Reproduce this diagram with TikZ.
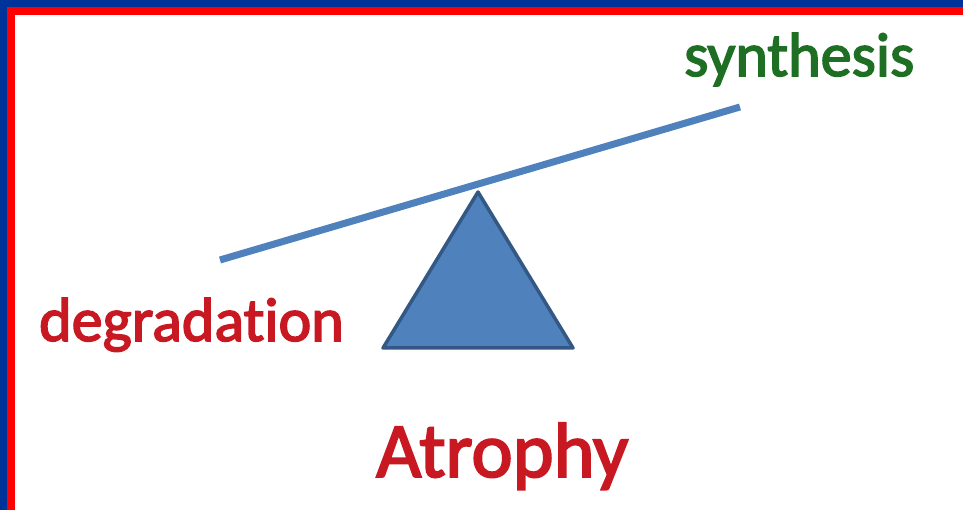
\documentclass[tikz,border=0pt]{standalone}
\usepackage{fontspec}
\setmainfont[Ligatures=NoCommon]{Carlito}
\newfontfamily\labelfont[Ligatures=NoCommon, FakeBold=2.5]{Carlito}
\usepackage{tikz}
\usetikzlibrary{calc}
\definecolor{frameblue}{RGB}{0,51,153}
\definecolor{framered}{RGB}{255,0,0}
\definecolor{beamblue}{RGB}{79,129,189}
\definecolor{beamedge}{RGB}{52,88,132}
\definecolor{synthgreen}{RGB}{30,110,35}
\definecolor{labelred}{RGB}{200,25,35}
\tikzset{
  beam/.style={line width=7pt, beamblue},
  fulcrum/.style={fill=beamblue, draw=beamedge, line width=3.5pt, line join=round},
  sidelabel/.style={anchor=base west, inner sep=0pt,
                    font=\labelfont\fontsize{62}{62}\selectfont},
  titlelabel/.style={anchor=base west, inner sep=0pt, text=labelred,
                     font=\labelfont\fontsize{78}{78}\selectfont},
}

\begin{document}
\begin{tikzpicture}[x=1pt,y=1pt]
  \useasboundingbox (0,0) rectangle (963,510);
  \fill[white] (0,0) rectangle (963,510);

  % Frame on top and left
  \fill[frameblue] (0,0) rectangle (7,510);
  \fill[frameblue] (0,503) rectangle (963,510);
  \fill[framered] (7,0) rectangle (15,503);
  \fill[framered] (7,495) rectangle (963,503);

  % Fulcrum
  \coordinate (apex) at (478,318);
  \coordinate (baseL) at (383,162);
  \coordinate (baseR) at (573,162);
  \draw[fulcrum] (apex) -- (baseR) -- (baseL) -- cycle;

  % Beam
  \coordinate (beamL) at (220,250);
  \coordinate (beamR) at (740,403);
  \draw[beam] (beamL) -- (beamR);

  % Labels
  \node[sidelabel, text=synthgreen] (synth) at (684,434) {synthesis};
  \node[sidelabel, text=labelred] (degr) at (39,169) {degradation};
  \node[titlelabel] (title) at (376,33) {Atrophy};
\end{tikzpicture}
\end{document}
